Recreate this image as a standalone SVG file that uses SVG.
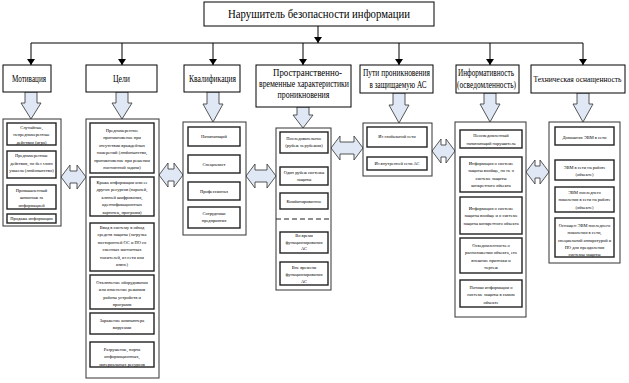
<svg xmlns="http://www.w3.org/2000/svg" width="629" height="383" viewBox="0 0 629 383">
<style>
.bg{fill:#fff}
.cat{fill:#fff;stroke:#000;stroke-width:1}
.cont{fill:#fff;stroke:#333;stroke-width:1}
.in{fill:#fff;stroke:#222;stroke-width:1.4}
.t{font-family:"Liberation Serif","Times New Roman",serif;fill:#000;text-anchor:middle}
.tt{font-size:12px}
.tc{font-size:9.5px}
.ti{font-size:4.5px}
.ln{stroke:#000;stroke-width:1;fill:none}
.ha{fill:#dfe8f4;stroke:#444;stroke-width:0.9}
.dash{stroke:#222;stroke-width:1.2;stroke-dasharray:5,3}
</style>
<defs>
<marker id="ah" markerWidth="6" markerHeight="8" refX="6" refY="4" orient="auto" markerUnits="userSpaceOnUse">
<path d="M0,0 L6,4 L0,8 z" fill="#000"/>
</marker>
</defs>
<rect class="bg" x="0" y="0" width="629" height="383"/>

<g id="connectors">
<line class="ln" x1="318" y1="26" x2="318" y2="43" marker-end="url(#ah)"/>
<line class="ln" x1="31" y1="43" x2="583" y2="43"/>
<line class="ln" x1="31" y1="43" x2="31" y2="65" marker-end="url(#ah)"/>
<line class="ln" x1="122" y1="43" x2="122" y2="65" marker-end="url(#ah)"/>
<line class="ln" x1="213" y1="43" x2="213" y2="65" marker-end="url(#ah)"/>
<line class="ln" x1="303" y1="43" x2="303" y2="65" marker-end="url(#ah)"/>
<line class="ln" x1="399" y1="43" x2="399" y2="65" marker-end="url(#ah)"/>
<line class="ln" x1="490" y1="43" x2="490" y2="65" marker-end="url(#ah)"/>
<line class="ln" x1="583" y1="43" x2="583" y2="65" marker-end="url(#ah)"/>
<polygon class="ha" points="25,92 37,92 37,103 41,103 31,119 21,103 25,103"/>
<polygon class="ha" points="116,92 128,92 128,103 132,103 122,119 112,103 116,103"/>
<polygon class="ha" points="207,92 219,92 219,104 223,104 213,122 203,104 207,104"/>
<polygon class="ha" points="297,107 309,107 309,115 313,115 303,128 293,115 297,115"/>
<polygon class="ha" points="393,93 405,93 405,105 409,105 399,123 389,105 393,105"/>
<polygon class="ha" points="484,93 496,93 496,104 500,104 490,122 480,104 484,104"/>
<polygon class="ha" points="577,93 589,93 589,104 593,104 583,122 573,104 577,104"/>
<polygon class="ha" points="61,177 70,165 70,171 77,171 77,165 86,177 77,189 77,183 70,183 70,189"/>
<polygon class="ha" points="159,175 168,163 168,169 174,169 174,163 183,175 174,187 174,181 168,181 168,187"/>
<polygon class="ha" points="246,176 255,164 255,170 267,170 267,164 276,176 267,188 267,182 255,182 255,188"/>
<polygon class="ha" points="331,148 340,136 340,142 354,142 354,136 363,148 354,160 354,154 340,154 340,160"/>
<polygon class="ha" points="432,151 441,139 441,145 446,145 446,139 455,151 446,163 446,157 441,157 441,163"/>
<polygon class="ha" points="526,172 535,160 535,166 540,166 540,160 549,172 540,184 540,178 535,178 535,184"/>
</g>

<g id="root">
<rect class="cat" x="204" y="2" width="230" height="24"/>
<text class="t tt" x="319" y="18" textLength="182" lengthAdjust="spacingAndGlyphs">Нарушитель безопасности информации</text>
</g>

<g id="motivation">
<rect class="cat" x="3" y="65" width="48" height="27"/>
<text class="t tc" x="29" y="82" textLength="34" lengthAdjust="spacingAndGlyphs">Мотивация</text>
<rect class="cont" x="3" y="119" width="58" height="107"/>
<rect class="in" x="7" y="123" width="49" height="22"/>
<text class="t ti"><tspan x="31.5" y="128.5">Случайные,</tspan><tspan x="31.5" y="136">непреднамеренные</tspan><tspan x="31.5" y="143.5">действия (игра)</tspan></text>
<rect class="in" x="7" y="151" width="49" height="27"/>
<text class="t ti"><tspan x="31.5" y="157">Преднамеренные</tspan><tspan x="31.5" y="164.5">действия, но без злого</tspan><tspan x="31.5" y="172">умысла (любопытство)</tspan></text>
<rect class="in" x="7" y="185" width="49" height="24"/>
<text class="t ti"><tspan x="31.5" y="191.5">Промышленный</tspan><tspan x="31.5" y="199">шпионаж за</tspan><tspan x="31.5" y="206.5">информацией</tspan></text>
<rect class="in" x="7" y="214" width="49" height="9"/>
<text class="t ti" x="31.5" y="220">Продажа информации</text>
</g>

<g id="goals">
<rect class="cat" x="86" y="65" width="71" height="27"/>
<text class="t tc" x="121.5" y="82" textLength="17" lengthAdjust="spacingAndGlyphs">Цели</text>
<rect class="cont" x="86" y="119" width="73" height="259"/>
<rect class="in" x="90" y="123" width="64" height="50"/>
<text class="t ti"><tspan x="122" y="131.5">Преднамеренное</tspan><tspan x="122" y="139">проникновение при</tspan><tspan x="122" y="146.5">отсутствии враждебных</tspan><tspan x="122" y="154">намерений (любопытство,</tspan><tspan x="122" y="161.5">проникновение при решении</tspan><tspan x="122" y="169">постоянной задачи)</tspan></text>
<rect class="in" x="90" y="177" width="64" height="39"/>
<text class="t ti"><tspan x="122" y="183.5">Кража информации или ее</tspan><tspan x="122" y="191">других ресурсов (паролей,</tspan><tspan x="122" y="198.5">ключей шифрования,</tspan><tspan x="122" y="206">идентификационных</tspan><tspan x="122" y="213.5">карточек, программ)</tspan></text>
<rect class="in" x="90" y="223" width="64" height="48"/>
<text class="t ti"><tspan x="122" y="229">Ввод в систему в обход</tspan><tspan x="122" y="236">средств защиты (загрузка</tspan><tspan x="122" y="243.5">посторонней ОС и ПО со</tspan><tspan x="122" y="251">сменных магнитных</tspan><tspan x="122" y="258.5">носителей, из сети или</tspan><tspan x="122" y="266">извне)</tspan></text>
<rect class="in" x="90" y="275" width="64" height="34"/>
<text class="t ti"><tspan x="122" y="283.5">Отключение оборудования</tspan><tspan x="122" y="291">или изменение режимов</tspan><tspan x="122" y="298.5">работы устройств и</tspan><tspan x="122" y="306">программ</tspan></text>
<rect class="in" x="90" y="313" width="64" height="21"/>
<text class="t ti"><tspan x="122" y="321.5">Заражение компьютера</tspan><tspan x="122" y="329">вирусами</tspan></text>
<rect class="in" x="90" y="342" width="64" height="25"/>
<text class="t ti"><tspan x="122" y="350.5">Разрушение, порча</tspan><tspan x="122" y="358">информационных,</tspan><tspan x="122" y="365.5">материальных ресурсов</tspan></text>
</g>

<g id="qualification">
<rect class="cat" x="184" y="65" width="56" height="27"/>
<text class="t tc" x="212.5" y="82" textLength="47" lengthAdjust="spacingAndGlyphs">Квалификация</text>
<rect class="cont" x="183" y="122" width="63" height="113"/>
<rect class="in" x="188" y="127" width="52" height="19"/>
<text class="t ti" x="214" y="138">Начинающий</text>
<rect class="in" x="188" y="155" width="52" height="18"/>
<text class="t ti" x="214" y="165.5">Специалист</text>
<rect class="in" x="188" y="182" width="52" height="18"/>
<text class="t ti" x="214" y="192.5">Профессионал</text>
<rect class="in" x="188" y="207" width="52" height="21"/>
<text class="t ti"><tspan x="214" y="215">Сотрудники</tspan><tspan x="214" y="222">предприятия</tspan></text>
</g>

<g id="spacetime">
<rect class="cat" x="256" y="65" width="95" height="42"/>
<text class="t tc" x="307.5" y="76" textLength="69" lengthAdjust="spacingAndGlyphs">Пространственно-</text>
<text class="t tc" x="304" y="87" textLength="90" lengthAdjust="spacingAndGlyphs">временные характеристики</text>
<text class="t tc" x="303.5" y="98" textLength="52" lengthAdjust="spacingAndGlyphs">проникновения</text>
<rect class="cont" x="276" y="128" width="55" height="162"/>
<rect class="in" x="280" y="132" width="48" height="21"/>
<text class="t ti"><tspan x="304" y="140">Последовательное</tspan><tspan x="304" y="147">(рубеж за рубежом)</tspan></text>
<rect class="in" x="280" y="167" width="48" height="18"/>
<text class="t ti"><tspan x="304" y="174">Один рубеж системы</tspan><tspan x="304" y="180.5">защиты</tspan></text>
<rect class="in" x="280" y="193" width="48" height="16"/>
<text class="t ti" x="304" y="203">Комбинированное</text>
<line class="dash" x1="276" y1="219" x2="331" y2="219"/>
<rect class="in" x="280" y="232" width="48" height="21"/>
<text class="t ti"><tspan x="304" y="237">Во время</tspan><tspan x="304" y="243.5">функционирования</tspan><tspan x="304" y="250">АС</tspan></text>
<rect class="in" x="280" y="262" width="48" height="23"/>
<text class="t ti"><tspan x="304" y="268.5">Вне времени</tspan><tspan x="304" y="275.5">функционирования</tspan><tspan x="304" y="282.5">АС</tspan></text>
</g>

<g id="paths">
<rect class="cat" x="360" y="65" width="73" height="28"/>
<text class="t tc" x="396.5" y="76" textLength="67" lengthAdjust="spacingAndGlyphs">Пути проникновения</text>
<text class="t tc" x="398" y="88" textLength="57" lengthAdjust="spacingAndGlyphs">в защищаемую АС</text>
<rect class="cont" x="363" y="123" width="69" height="53"/>
<rect class="in" x="367" y="127" width="60" height="20"/>
<text class="t ti" x="397" y="138">Из глобальной сети</text>
<rect class="in" x="367" y="157" width="60" height="13"/>
<text class="t ti" x="397" y="165">Из внутренней сети АС</text>
</g>

<g id="awareness">
<rect class="cat" x="456" y="65" width="63" height="28"/>
<text class="t tc" x="486" y="76" textLength="56" lengthAdjust="spacingAndGlyphs">Информативность</text>
<text class="t tc" x="486.5" y="88" textLength="59" lengthAdjust="spacingAndGlyphs">(осведомленность)</text>
<rect class="cont" x="455" y="122" width="71" height="195"/>
<rect class="in" x="460" y="130" width="62" height="18"/>
<text class="t ti"><tspan x="491" y="137">Неосведомленный</tspan><tspan x="491" y="144.5">начинающий нарушитель</tspan></text>
<rect class="in" x="460" y="157" width="62" height="35"/>
<text class="t ti"><tspan x="491" y="164.5">Информация о системе</tspan><tspan x="491" y="172">защиты вообще, но не о</tspan><tspan x="491" y="179.5">системе защиты</tspan><tspan x="491" y="187">конкретного объекта</tspan></text>
<rect class="in" x="460" y="197" width="62" height="37"/>
<text class="t ti"><tspan x="491" y="209.5">Информация о системе</tspan><tspan x="491" y="217">защиты вообще и о системе</tspan><tspan x="491" y="224.5">защиты конкретного объекта</tspan></text>
<rect class="in" x="460" y="238" width="62" height="35"/>
<text class="t ti"><tspan x="491" y="246.5">Осведомленность о</tspan><tspan x="491" y="254">расположении объекта, его</tspan><tspan x="491" y="261.5">внешние признаки и</tspan><tspan x="491" y="269">чертеж</tspan></text>
<rect class="in" x="460" y="280" width="62" height="27"/>
<text class="t ti"><tspan x="491" y="288.5">Потоки информации о</tspan><tspan x="491" y="296">системе защиты в самом</tspan><tspan x="491" y="303.5">объекте</tspan></text>
</g>

<g id="equipment">
<rect class="cat" x="531" y="65" width="94" height="28"/>
<text class="t" style="font-size:8.2px" x="577.5" y="82" textLength="88" lengthAdjust="spacingAndGlyphs">Техническая оснащенность</text>
<rect class="cont" x="549" y="122" width="71" height="141"/>
<rect class="in" x="555" y="127" width="59" height="18"/>
<text class="t ti" x="584.5" y="139">Домашняя ЭВМ в сети</text>
<rect class="in" x="555" y="160" width="59" height="20"/>
<text class="t ti"><tspan x="584.5" y="168.5">ЭВМ в сети на работе</tspan><tspan x="584.5" y="175.5">(объекте)</tspan></text>
<rect class="in" x="555" y="187" width="59" height="25"/>
<text class="t ti"><tspan x="584.5" y="193.5">ЭВМ последнего</tspan><tspan x="584.5" y="201">поколения в сети на работе</tspan><tspan x="584.5" y="208.5">(объекте)</tspan></text>
<rect class="in" x="555" y="218" width="59" height="39"/>
<text class="t ti"><tspan x="584.5" y="226.5">Оснащен ЭВМ последнего</tspan><tspan x="584.5" y="234">поколения в сети,</tspan><tspan x="584.5" y="241.5">специальной аппаратурой и</tspan><tspan x="584.5" y="249">ПО для преодоления</tspan><tspan x="584.5" y="256">системы защиты</tspan></text>
</g>
</svg>
